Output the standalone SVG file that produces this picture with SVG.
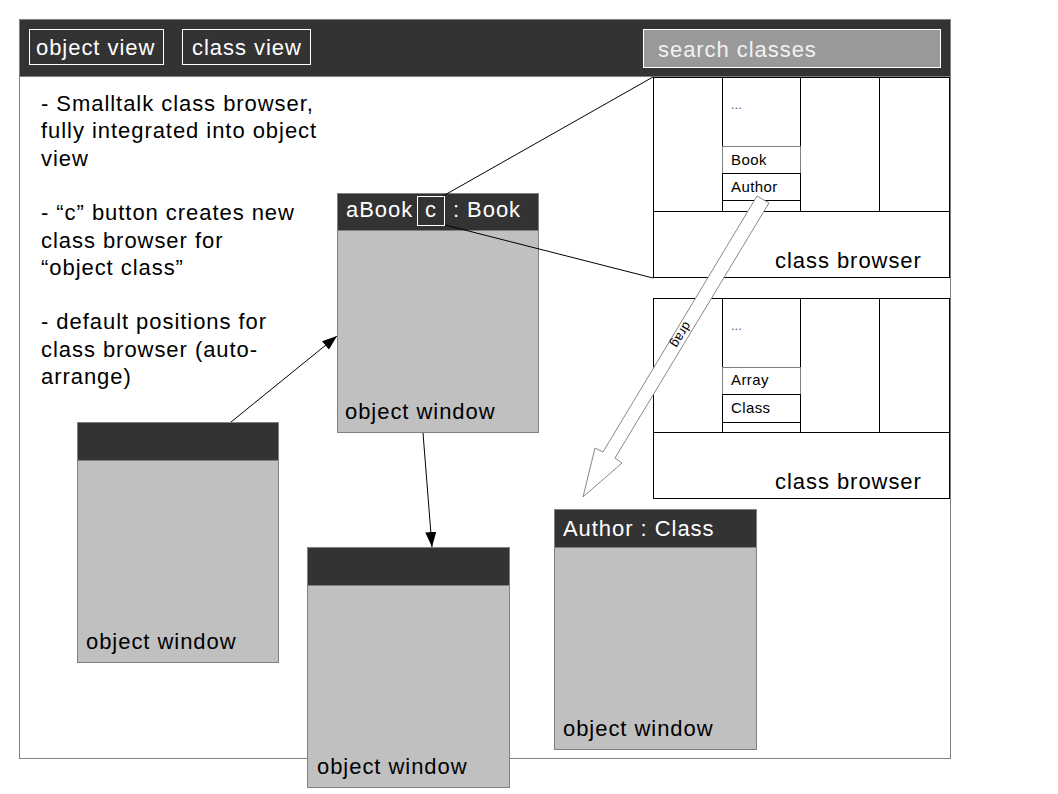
<svg xmlns="http://www.w3.org/2000/svg" width="1058" height="794" viewBox="0 0 1058 794">
<style>
text{font-family:"Liberation Sans",Arial,sans-serif}
.big{font-size:22px;letter-spacing:0.95px}
.sm{font-size:15px;letter-spacing:0.4px}
.wt{fill:#ffffff}
.bk{fill:#000000}
.win{fill:#c0c0c0;stroke:#808080;stroke-width:1}
.hdr{fill:#333333;stroke:#808080;stroke-width:1}
.bl{fill:none;stroke:#000000;stroke-width:1}
.gl{fill:none;stroke:#808080;stroke-width:1}
.wb{fill:none;stroke:#ffffff;stroke-width:1}
</style>
<defs>
<marker id="ah" markerUnits="userSpaceOnUse" markerWidth="15" markerHeight="11" refX="15" refY="5.5" orient="auto">
<path d="M0,0 L15,5.5 L0,11 z" fill="#000000"/>
</marker>
</defs>
<rect width="1058" height="794" fill="#ffffff"/>
<g id="frame">
<rect x="19.5" y="19.5" width="931" height="739" fill="#ffffff" stroke="#808080"/>
<rect x="19.5" y="19.5" width="931" height="57" fill="#333333" stroke="#808080"/>
</g>
<g id="btn-object-view">
<rect x="29.5" y="29.5" width="134" height="35" class="wb"/>
<text x="36" y="55" class="big wt">object view</text>
</g>
<g id="btn-class-view">
<rect x="182.5" y="29.5" width="128" height="35" class="wb"/>
<text x="192" y="55" class="big wt">class view</text>
</g>
<g id="search">
<rect x="643.5" y="29.5" width="297" height="38" fill="#999999" stroke="#ffffff"/>
<text x="658" y="57" class="big" fill="#f2f2f2">search classes</text>
</g>
<g id="notes">
<text class="big bk">
<tspan x="41" y="111">- Smalltalk class browser,</tspan>
<tspan x="41" y="138.3">fully integrated into object</tspan>
<tspan x="41" y="165.6">view</tspan>
<tspan x="41" y="220.2">- “c” button creates new</tspan>
<tspan x="41" y="247.5">class browser for</tspan>
<tspan x="41" y="274.8">“object class”</tspan>
<tspan x="41" y="329.4">- default positions for</tspan>
<tspan x="41" y="356.7">class browser (auto-</tspan>
<tspan x="41" y="384">arrange)</tspan>
</text>
</g>
<g id="browser1">
<rect x="653.5" y="77.5" width="296" height="200" class="bl"/>
<line x1="722.5" y1="77.5" x2="722.5" y2="211.5" class="bl"/>
<line x1="800.5" y1="77.5" x2="800.5" y2="211.5" class="bl"/>
<line x1="879.5" y1="77.5" x2="879.5" y2="211.5" class="bl"/>
<line x1="653.5" y1="211.5" x2="949.5" y2="211.5" class="bl"/>
<text x="731" y="109" font-size="13" fill="#555555">...</text>
<rect x="722.5" y="146.5" width="78" height="27" class="gl"/>
<rect x="722.5" y="173.5" width="78" height="27" class="bl"/>
<text x="731" y="165" class="sm bk">Book</text>
<text x="731" y="192" class="sm bk">Author</text>
<text x="775" y="268" class="big bk">class browser</text>
</g>
<g id="browser2">
<rect x="653.5" y="298.5" width="296" height="200" class="bl"/>
<line x1="722.5" y1="298.5" x2="722.5" y2="432.5" class="bl"/>
<line x1="800.5" y1="298.5" x2="800.5" y2="432.5" class="bl"/>
<line x1="879.5" y1="298.5" x2="879.5" y2="432.5" class="bl"/>
<line x1="653.5" y1="432.5" x2="949.5" y2="432.5" class="bl"/>
<text x="731" y="330" font-size="13" fill="#555555">...</text>
<rect x="722.5" y="367.5" width="78" height="27" class="gl"/>
<rect x="722.5" y="394.5" width="78" height="28" class="bl"/>
<text x="731" y="385" class="sm bk">Array</text>
<text x="731" y="413" class="sm bk">Class</text>
<text x="775" y="489" class="big bk">class browser</text>
</g>
<g id="win-abook">
<rect x="337.5" y="193.5" width="201" height="239" class="win"/>
<rect x="337.5" y="193.5" width="201" height="37" class="hdr"/>
<text x="346" y="217" class="big wt">aBook</text>
<rect x="417.5" y="196.5" width="27" height="29" class="wb"/>
<text x="425" y="217" class="big wt">c</text>
<text x="453" y="217" class="big wt">: Book</text>
<text x="345" y="419" class="big bk">object window</text>
</g>
<g id="win-left">
<rect x="77.5" y="422.5" width="201" height="240" class="win"/>
<rect x="77.5" y="422.5" width="201" height="38" class="hdr"/>
<text x="86" y="649" class="big bk">object window</text>
</g>
<g id="win-bottom">
<rect x="307.5" y="547.5" width="202" height="240" class="win"/>
<rect x="307.5" y="547.5" width="202" height="38" class="hdr"/>
<text x="317" y="774" class="big bk">object window</text>
</g>
<g id="win-author">
<rect x="554.5" y="509.5" width="202" height="240" class="win"/>
<rect x="554.5" y="509.5" width="202" height="38" class="hdr"/>
<text x="563" y="536" class="big wt">Author : Class</text>
<text x="563" y="736" class="big bk">object window</text>
</g>
<g id="connectors">
<line x1="443" y1="196" x2="653" y2="77" stroke="#000000" stroke-width="1"/>
<line x1="445" y1="225" x2="653" y2="278" stroke="#000000" stroke-width="1"/>
<line x1="231" y1="422" x2="337" y2="336" stroke="#000000" stroke-width="1" marker-end="url(#ah)"/>
<line x1="423" y1="433" x2="432" y2="547" stroke="#000000" stroke-width="1" marker-end="url(#ah)"/>
<polygon points="757,196 769,203 615,458 622,463 583,497 595,448 603,452" fill="#ffffff" stroke="#888888" stroke-width="1"/>
<text transform="translate(681,335) rotate(121)" x="0" y="4" text-anchor="middle" font-size="13" letter-spacing="0.5" fill="#000000">drag</text>
</g>
</svg>
